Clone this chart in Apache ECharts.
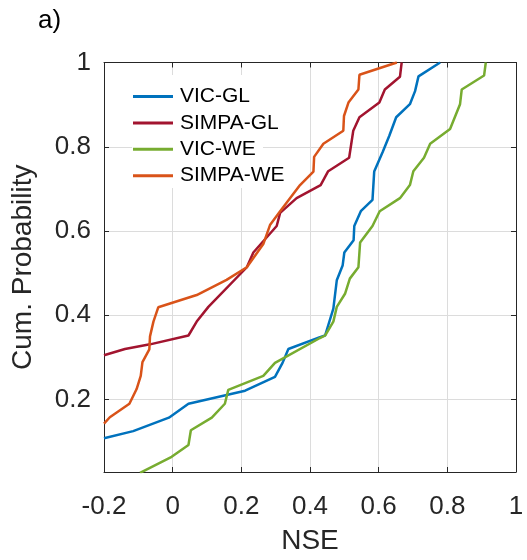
<!DOCTYPE html>
<html>
<head>
<meta charset="utf-8">
<script src="https://cdn.jsdelivr.net/npm/echarts@6/dist/echarts.min.js"></script>
<style>
html,body{margin:0;padding:0;background:#fff;}
#c{width:527px;height:560px;}
</style>
</head>
<body>
<div id="c"></div>
<script>
var seriesNames = ['VIC-GL', 'SIMPA-GL', 'VIC-WE', 'SIMPA-WE'];
var seriesColors = ['#0072BD', '#A2142F', '#77AC30', '#D95319'];

var vicGlX = [-0.2, -0.115, -0.011, 0.046, 0.211, 0.298, 0.32, 0.337, 0.429, 0.444, 0.468, 0.478, 0.495, 0.5, 0.527, 0.529, 0.548, 0.582, 0.587, 0.612, 0.631, 0.651, 0.691, 0.706, 0.716, 0.779];
var vicGlY = [0.108, 0.125, 0.157, 0.19, 0.221, 0.254, 0.287, 0.32, 0.348, 0.352, 0.416, 0.483, 0.518, 0.549, 0.578, 0.612, 0.647, 0.674, 0.741, 0.788, 0.826, 0.87, 0.901, 0.932, 0.967, 1.0];

var simpaGlX = [-0.2, -0.139, -0.066, 0.046, 0.07, 0.104, 0.216, 0.235, 0.303, 0.313, 0.361, 0.431, 0.453, 0.514, 0.526, 0.544, 0.602, 0.618, 0.662, 0.667];
var simpaGlY = [0.305, 0.32, 0.331, 0.352, 0.385, 0.42, 0.514, 0.549, 0.612, 0.643, 0.678, 0.709, 0.742, 0.774, 0.838, 0.87, 0.905, 0.936, 0.966, 1.0];

var vicWeX = [-0.095, -0.003, 0.046, 0.053, 0.114, 0.152, 0.162, 0.264, 0.298, 0.429, 0.444, 0.468, 0.478, 0.502, 0.516, 0.541, 0.546, 0.582, 0.603, 0.662, 0.691, 0.701, 0.732, 0.75, 0.808, 0.837, 0.842, 0.907, 0.912];
var vicWeY = [0.026, 0.064, 0.092, 0.127, 0.157, 0.19, 0.223, 0.256, 0.287, 0.346, 0.352, 0.385, 0.42, 0.451, 0.487, 0.514, 0.573, 0.612, 0.647, 0.678, 0.709, 0.742, 0.774, 0.807, 0.842, 0.901, 0.936, 0.969, 1.0];

var simpaWeX = [-0.2, -0.183, -0.126, -0.105, -0.093, -0.088, -0.068, -0.066, -0.056, -0.042, 0.07, 0.157, 0.216, 0.264, 0.284, 0.313, 0.371, 0.41, 0.412, 0.439, 0.497, 0.499, 0.512, 0.541, 0.544, 0.653];
var simpaWeY = [0.143, 0.158, 0.19, 0.225, 0.256, 0.289, 0.319, 0.35, 0.385, 0.419, 0.448, 0.484, 0.514, 0.569, 0.615, 0.647, 0.709, 0.741, 0.776, 0.807, 0.838, 0.873, 0.905, 0.936, 0.971, 1.0];

var xTicks = [-0.2, 0, 0.2, 0.4, 0.6, 0.8, 1];
var yTicks = [0.2, 0.4, 0.6, 0.8, 1];

var allX = [vicGlX, simpaGlX, vicWeX, simpaWeX];
var allY = [vicGlY, simpaGlY, vicWeY, simpaWeY];

function zip(xs, ys) { return xs.map(function (x, i) { return [x, ys[i]]; }); }
function fmt(v) { return String(parseFloat(Number(v).toFixed(1))); }

var font = 'Liberation Sans, Arial, Helvetica, sans-serif';
var axisColor = '#262626';
var gridColor = '#dcdcdc';

function xAxisCfg(pos, showLabel) {
  return {
    type: 'value', position: pos, min: -0.2, max: 1, interval: 0.2,
    axisLine: { show: true, onZero: false, lineStyle: { color: axisColor, width: 1 } },
    axisTick: { show: true, inside: true, length: 5, lineStyle: { color: axisColor } },
    axisLabel: { show: showLabel, formatter: fmt, fontSize: 26, color: axisColor, fontFamily: font, margin: 22 },
    splitLine: { show: showLabel, lineStyle: { color: gridColor, width: 1 } },
    name: showLabel ? 'NSE' : '', nameLocation: 'middle', nameGap: 55,
    nameTextStyle: { fontSize: 28, color: axisColor, fontFamily: font }
  };
}
function yAxisCfg(pos, showLabel) {
  return {
    type: 'value', position: pos, min: 0.028, max: 1,
    axisLine: { show: true, onZero: false, lineStyle: { color: axisColor, width: 1 } },
    axisTick: { show: true, inside: true, length: 5, customValues: yTicks, lineStyle: { color: axisColor } },
    axisLabel: { show: showLabel, customValues: yTicks, formatter: fmt, fontSize: 26, color: axisColor, fontFamily: font, margin: 13 },
    splitLine: { show: showLabel, lineStyle: { color: gridColor, width: 1 } },
    name: showLabel ? 'Cum. Probability' : '', nameLocation: 'middle', nameGap: 67,
    nameTextStyle: { fontSize: 28, color: axisColor, fontFamily: font }
  };
}

var series = seriesNames.map(function (n, i) {
  return {
    name: n, type: 'line', data: zip(allX[i], allY[i]),
    showSymbol: false, symbol: 'none', smooth: false, clip: true,
    lineStyle: { color: seriesColors[i], width: 2.5 },
    itemStyle: { color: seriesColors[i] }
  };
});

var chart = echarts.init(document.getElementById('c'), null, { renderer: 'canvas' });
chart.setOption({
  animation: false,
  backgroundColor: '#fff',
  grid: { left: 104, right: 11, top: 62.5, bottom: 82.7, containLabel: false },
  xAxis: [xAxisCfg('bottom', true), xAxisCfg('top', false)],
  yAxis: [yAxisCfg('left', true), yAxisCfg('right', false)],
  title: { text: 'a)', left: 38, top: 7.5, padding: 0, textStyle: { fontSize: 26, fontWeight: 'normal', color: '#000', fontFamily: font } },
  legend: {
    orient: 'vertical', left: 133, top: 86, padding: 0,
    itemWidth: 40, itemHeight: 3, itemGap: 5.4, icon: 'rect',
    textStyle: { fontSize: 21, lineHeight: 21, color: '#000', fontFamily: font, padding: [0, 0, 0, 2] },
    data: seriesNames
  },
  graphic: [{
    type: 'rect', z: 1, silent: true,
    shape: { x: 132, y: 75, width: 131, height: 113 },
    style: { fill: '#fff' }
  }],
  series: series
});
</script>
</body>
</html>
